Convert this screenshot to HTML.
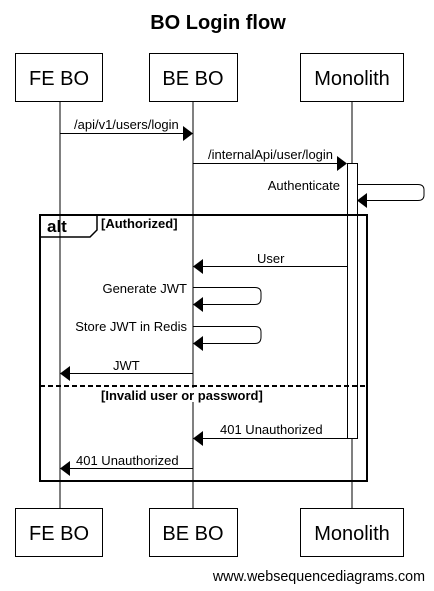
<!DOCTYPE html>
<html><head><style>body{margin:0;background:#fff}svg{display:block}</style></head><body>
<svg width="434" height="591" xmlns="http://www.w3.org/2000/svg" font-family="Liberation Sans, Arial, sans-serif">
<rect width="434" height="591" fill="#fff"/>
<text x="218" y="29" text-anchor="middle" font-size="20" font-weight="bold">BO Login flow</text>
<g stroke="#000" stroke-width="1" fill="none">
<line x1="60" y1="101" x2="60" y2="508"/>
<line x1="193" y1="101" x2="193" y2="508"/>
<line x1="352" y1="101" x2="352" y2="508"/>
<rect x="15.5" y="53.5" width="87" height="48" fill="#fff"/>
<rect x="149.5" y="53.5" width="88" height="48" fill="#fff"/>
<rect x="300.5" y="53.5" width="103" height="48" fill="#fff"/>
<rect x="15.5" y="508.5" width="87" height="48" fill="#fff"/>
<rect x="149.5" y="508.5" width="88" height="48" fill="#fff"/>
<rect x="300.5" y="508.5" width="103" height="48" fill="#fff"/>
<rect x="347.5" y="163.5" width="10" height="275" fill="#fff"/>
<rect x="40" y="215" width="327" height="266" stroke-width="2"/>
<path d="M40 215 H97 V230 L90 237 H40" stroke-width="1.5"/>
<line x1="40" y1="386" x2="367" y2="386" stroke-width="2" stroke-dasharray="5,3"/>
<rect x="100" y="388" width="164" height="14" fill="#fff" stroke="none"/>
<line x1="60" y1="133.5" x2="184" y2="133.5"/>
<line x1="193" y1="163.5" x2="338" y2="163.5"/>
<path d="M357 184.5 H418 Q424 184.5 424 190 V195 Q424 200.5 418 200.5 H366"/>
<line x1="202" y1="266.5" x2="347" y2="266.5"/>
<path d="M193 287.5 H255 Q261 287.5 261 293 V298 Q261 304.5 255 304.5 H202"/>
<path d="M193 326.5 H255 Q261 326.5 261 332 V337 Q261 343.5 255 343.5 H202"/>
<line x1="69" y1="373.5" x2="193" y2="373.5"/>
<line x1="202" y1="438.5" x2="347" y2="438.5"/>
<line x1="69" y1="468.5" x2="193" y2="468.5"/>
</g>
<g fill="#000">
<polygon points="183,126 193,133.5 183,141"/>
<polygon points="337,156 347,163.5 337,171"/>
<polygon points="367,193 357,200.5 367,208"/>
<polygon points="203,259 193,266.5 203,274"/>
<polygon points="203,297 193,304.5 203,312"/>
<polygon points="203,336 193,343.5 203,351"/>
<polygon points="70,366 60,373.5 70,381"/>
<polygon points="203,431 193,438.5 203,446"/>
<polygon points="70,461 60,468.5 70,476"/>
</g>
<g font-size="20" text-anchor="middle">
<text x="59" y="85">FE BO</text><text x="193" y="85">BE BO</text><text x="352" y="85">Monolith</text>
<text x="59" y="540">FE BO</text><text x="193" y="540">BE BO</text><text x="352" y="540">Monolith</text>
</g>
<g font-size="13">
<text x="74" y="129">/api/v1/users/login</text>
<text x="208" y="159">/internalApi/user/login</text>
<text x="340" y="190" text-anchor="end">Authenticate</text>
<text x="257" y="263">User</text>
<text x="187" y="293" text-anchor="end">Generate JWT</text>
<text x="187" y="331" text-anchor="end">Store JWT in Redis</text>
<text x="113" y="370">JWT</text>
<text x="220" y="434">401 Unauthorized</text>
<text x="76" y="465">401 Unauthorized</text>
<text x="425" y="581" text-anchor="end" font-size="14.3">www.websequencediagrams.com</text>
</g>
<g font-weight="bold" font-size="13">
<text x="101" y="228">[Authorized]</text>
<text x="101" y="400">[Invalid user or password]</text>
</g>
<text x="47" y="232" font-size="17" font-weight="bold">alt</text>
</svg>
</body></html>
